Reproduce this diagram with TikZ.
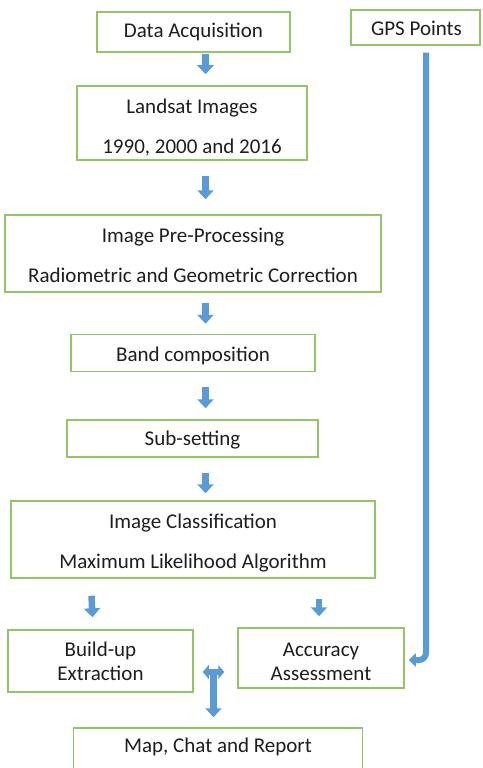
\documentclass[tikz,border=0pt]{standalone}
\usepackage{fontspec}
\setmainfont{Carlito}
\usetikzlibrary{arrows.meta,calc}
\definecolor{boxgreen}{RGB}{146,196,104}
\definecolor{arrowblue}{RGB}{91,155,213}
\definecolor{txt}{RGB}{30,30,30}
\tikzset{
  box/.style={draw=boxgreen, line width=1.5pt, inner sep=0pt},
  lbl/.style={inner sep=0pt, align=center, text=txt, font=\fontsize{21}{24}\selectfont},
  blk/.style={draw=arrowblue, line width=6.5pt, -{Triangle[width=16pt,length=9pt]}},
  blkg/.style={draw=arrowblue, line width=6pt, -{Triangle[width=13pt,length=7pt]}},
}
\begin{document}
\begin{tikzpicture}[x=1pt,y=-1pt]
\clip (0,0) rectangle (482,768);
\fill[white] (0,0) rectangle (482,768);
\node[box, minimum width=193pt, minimum height=40pt] (da) at (193.5,32) {};
\node[box, minimum width=129pt, minimum height=35pt] (gps) at (415.5,27.5) {};
\node[box, minimum width=230pt, minimum height=74pt] (ls) at (192,123) {};
\node[box, minimum width=376pt, minimum height=77pt] (pp) at (193,253.5) {};
\node[box, minimum width=244pt, minimum height=37pt] (bc) at (193,353) {};
\node[box, minimum width=251pt, minimum height=37pt] (ss) at (192.5,438.5) {};
\node[box, minimum width=364pt, minimum height=77pt] (ic) at (193,539.5) {};
\node[box, minimum width=185pt, minimum height=62pt] (bu) at (100.5,661) {};
\node[box, minimum width=166pt, minimum height=60pt] (aa) at (321,658) {};
\node[box, minimum width=289pt, minimum height=44pt] (mp) at (218,750) {};
\node[lbl] (dat) at (da.center) {Data Acquisition};
\node[lbl] (gpst) at ([xshift=1pt,yshift=-1pt]gps.center) {GPS Points};
\node[lbl] (lst) at ([yshift=-4.5pt]ls.center) {Landsat Images\\[16pt]1990, 2000 and 2016};
\node[lbl] (ppt) at ([yshift=-1.5pt]pp.center) {Image Pre-Processing\\[16pt]Radiometric and Geometric Correction};
\node[lbl] (bct) at ([yshift=-3pt]bc.center) {Band composition};
\node[lbl] (sst) at ([yshift=-2pt]ss.center) {Sub-setting};
\node[lbl] (ict) at ([yshift=-3.5pt]ic.center) {Image Classification\\[16pt]Maximum Likelihood Algorithm};
\node[lbl] (but) at ([yshift=-0.5pt]bu.center) {Build-up\\Extraction};
\node[lbl] (aat) at ([yshift=-4pt]aa.center) {Accuracy\\Assessment};
\node[lbl] (mpt) at ([yshift=3pt]mp.center) {Map, Chat and Report};
\coordinate (ax) at (205.5,0);
\coordinate (gx) at (426,0);
\draw[blk] ([yshift=-1pt]da.south -| ax) -- ([yshift=11pt]ls.north -| ax);
\draw[blk] ([yshift=-15pt]ls.south -| ax) -- ([yshift=15pt]pp.north -| ax);
\draw[blk] ([yshift=-10pt]pp.south -| ax) -- ([yshift=10pt]bc.north -| ax);
\draw[blk] ([yshift=-15pt]bc.south -| ax) -- ([yshift=11pt]ss.north -| ax);
\draw[blk] ([yshift=-15pt]ss.south -| ax) -- ([yshift=7pt]ic.north -| ax);
\draw[blk] ([xshift=-101.5pt,yshift=-17pt]ic.south) -- ([xshift=-8pt,yshift=12pt]bu.north);
\draw[blk] ([xshift=126pt,yshift=-20pt]ic.south) -- ([xshift=-2pt,yshift=11pt]aa.north);
\coordinate (gtip) at ([xshift=4pt,yshift=-2pt]aa.east);
\draw[blkg, rounded corners=7pt] ([yshift=-7pt]gps.south -| gx) |- (gtip);
\coordinate (tl) at ([xshift=9pt,yshift=-11pt]bu.east);
\coordinate (tr) at ([xshift=-13pt,yshift=-11pt]bu.east -| aa.west);
\coordinate (tm) at ($(tl)!0.5!(tr)$);
\draw[blk, {Triangle[width=14pt,length=6pt]}-{Triangle[width=14pt,length=6pt]}] (tl) -- (tr);
\draw[blk] (tm) -- ([yshift=10pt]mp.north -| tm);
\end{tikzpicture}
\end{document}
